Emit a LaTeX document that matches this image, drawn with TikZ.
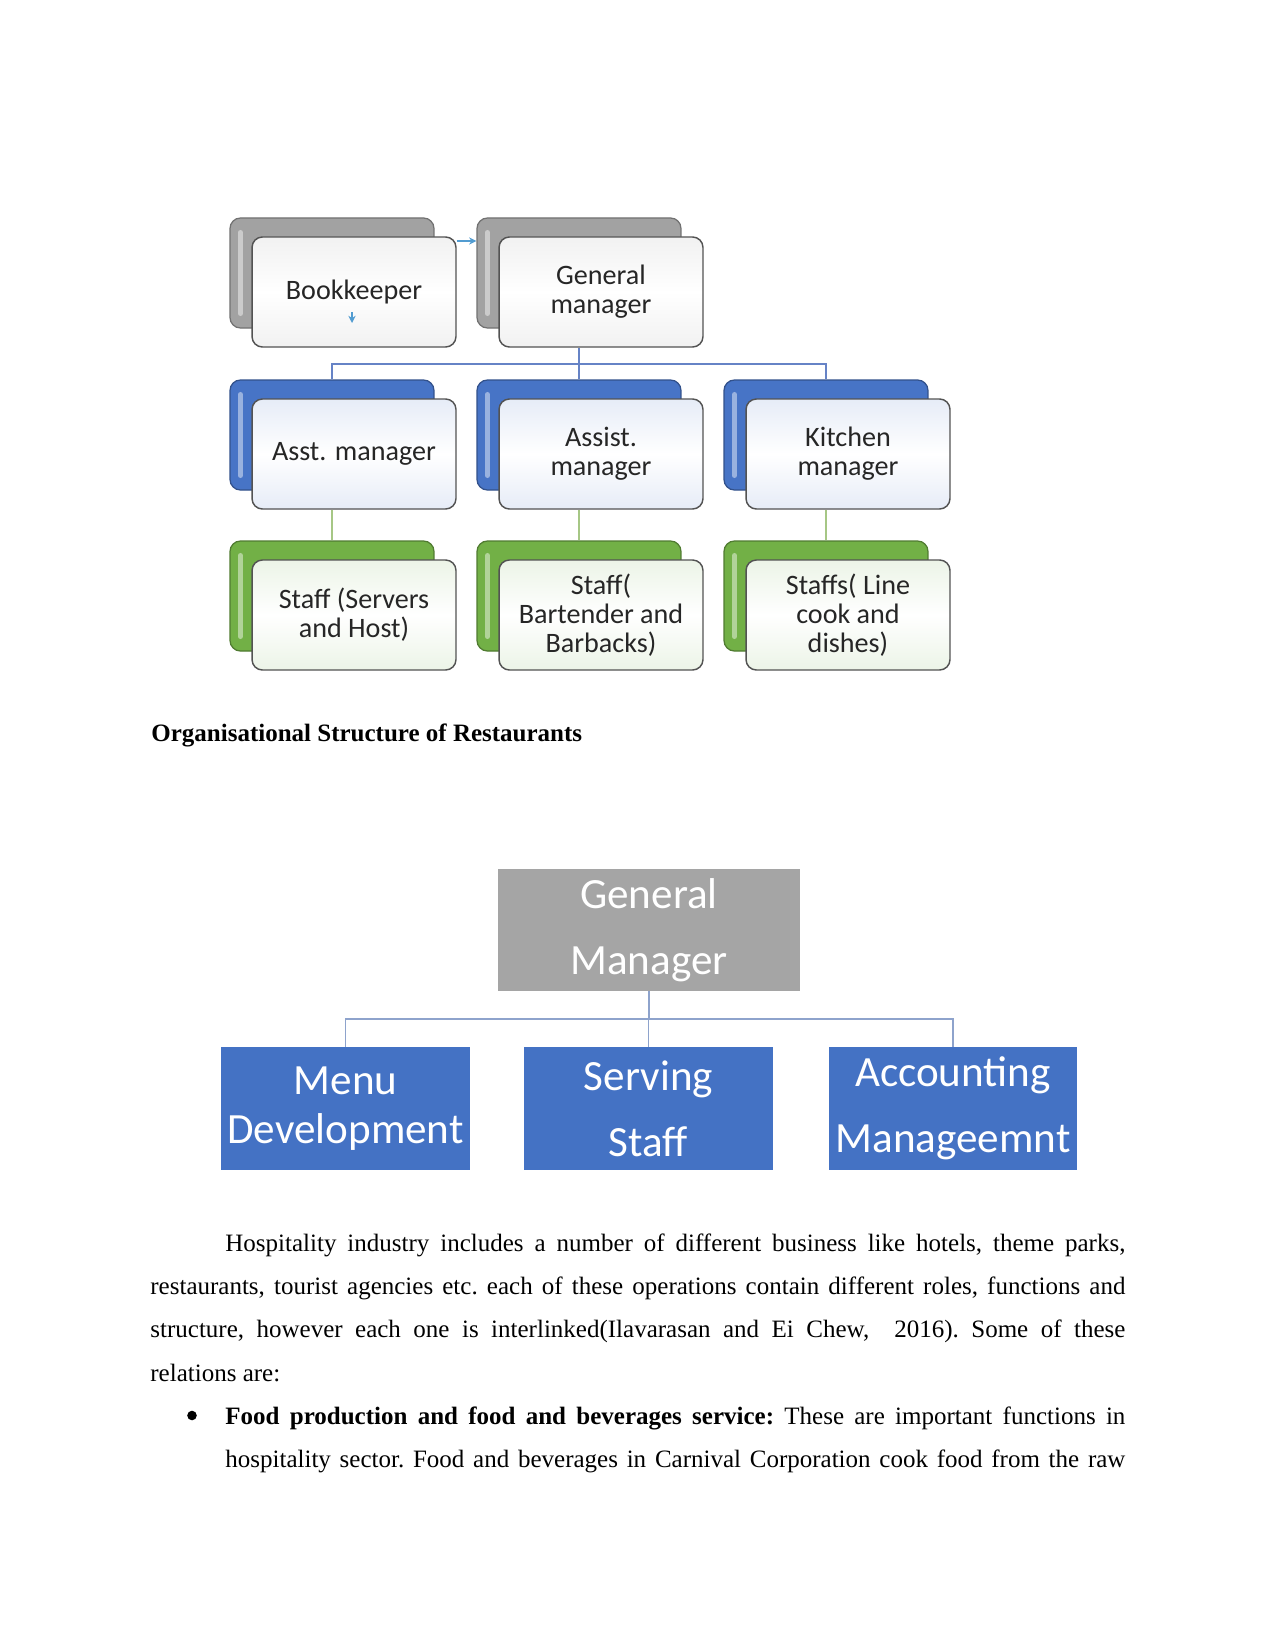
\documentclass[tikz,border=0pt]{standalone}
\usepackage{fontspec}
\setmainfont{Liberation Serif}
\newfontfamily\calibri{Carlito}
\usetikzlibrary{arrows.meta}
\definecolor{backgray}{HTML}{A2A2A2}
\definecolor{backblue}{HTML}{4774C6}
\definecolor{backgreen}{HTML}{72B046}
\definecolor{tintgray}{HTML}{F1F1F1}
\definecolor{tintblue}{HTML}{E6ECF7}
\definecolor{tintgreen}{HTML}{ECF4E7}
\definecolor{linkblue}{HTML}{6683C6}
\definecolor{linkgreen}{HTML}{A6C785}
\definecolor{gmgray}{HTML}{A5A5A5}
\definecolor{deptblue}{HTML}{4472C4}
\definecolor{busgray}{HTML}{8EA3CC}
\tikzset{
  backbox/.style={draw=#1!70!black,line width=.6pt,rounded corners=5pt,minimum width=97.9pt,minimum height=52.8pt,inner sep=0pt,fill=#1,
    path picture={\draw[white,opacity=.45,line width=2.5pt,line cap=round] ([xshift=5pt,yshift=-7pt]path picture bounding box.north west) -- ([xshift=5pt,yshift=7pt]path picture bounding box.south west);}},
  frontbox/.style={draw=gray!65!black,line width=.7pt,rounded corners=5pt,minimum width=97.9pt,minimum height=52.8pt,inner sep=0pt,align=center,text=black!85,font=\calibri\fontsize{13.5pt}{13.8pt}\selectfont,top color=#1,bottom color=#1,middle color=white},
  link/.style={line width=.9pt,#1},
  tinytip/.style={-{Stealth[length=3.5pt,width=3.5pt]},line width=.7pt,color=linkblue!80!cyan},
  deptbox/.style={fill=#1,minimum width=119.5pt,minimum height=59pt,inner sep=0pt,align=center,text=white,font=\calibri\fontsize{20.7pt}{31.5pt}\selectfont},
  bodyline/.style={anchor=base west,inner sep=0pt}
}
\begin{document}
\begin{tikzpicture}[x=.48pt,y=-.48pt,font=\fontsize{12pt}{14pt}\selectfont\frenchspacing]
\useasboundingbox (0,0) rectangle (1275,1651);
\fill[white] (0,0) rectangle (1275,1651);
\newcommand{\tierbox}[6]{\node[backbox=#4] (#1-b) at (#2+102,#3+55) {};\node[frontbox=#5] (#1) at (#2+124,#3+74) {#6};}
% restaurant chart
\foreach \n/\x/\t in {bk/230/Bookkeeper,gm/477/{General\\manager}}{\tierbox{\n}{\x}{218}{backgray}{tintgray}{\t}}
\foreach \n/\x/\t in {am/230/{Asst. manager},as/477/{Assist.\\manager},km/724/{Kitchen\\manager}}{\tierbox{\n}{\x}{380}{backblue}{tintblue}{\t}}
\foreach \n/\x/\t in {ss/230/{Staff (Servers\\and Host)},bs/477/{Staff(\\Bartender and\\Barbacks)},ks/724/{Staffs( Line\\cook and\\dishes)}}{\tierbox{\n}{\x}{541}{backgreen}{tintgreen}{\t}}
\coordinate (busT) at (0,364);
\draw[link=linkblue] (gm.south -| gm-b.south) -- (gm-b.south |- busT);
\draw[link=linkblue] (am-b.north) |- (busT -| km-b.north) -- (km-b.north);
\draw[link=linkblue] (as-b.north) -- (as-b.north |- busT);
\foreach \a/\b in {am/ss,as/bs,km/ks}{\draw[link=linkgreen] (\a.south -| \a-b.south) -- (\b-b.north);}
\draw[tinytip] (bk.east |- 0,241) -- (gm-b.west |- 0,241);
\coordinate (bkmark) at (352,312);
\draw[tinytip] (bkmark) -- ++(0,11);
\node[bodyline,font=\fontsize{12pt}{14pt}\selectfont\bfseries] (caption) at (151,741.5) {Organisational Structure of Restaurants};
% functional chart
\node[deptbox=gmgray,minimum width=145pt,minimum height=58.6pt] (gm2) at (649,930) {General\\Manager};
\node[deptbox=deptblue,font=\calibri\fontsize{20.7pt}{23.8pt}\selectfont] (menu) at (345.5,1108.5) {Menu\\Development};
\node[deptbox=deptblue] (serv) at (648.5,1108.5) {Serving\\Staff};
\node[deptbox=deptblue] (acct) at (953,1108.5) {Accounting\\Manageemnt};
\coordinate (busB) at (0,1019);
\draw[link=busgray] (gm2.south) -- (gm2.south |- busB);
\draw[link=busgray] (menu.north) |- (busB -| acct.north) -- (acct.north);
\draw[link=busgray] (serv.north) -- (serv.north |- busB);
% text
\node[bodyline] (l1) at (225,1251.7) {\makebox[432pt][s]{Hospitality industry includes a number of different business like hotels, theme parks,}};
\node[bodyline] (l2) at (150,1294.8) {\makebox[468pt][s]{restaurants, tourist agencies etc. each of these operations contain different roles, functions and}};
\node[bodyline] (l3) at (150,1337.9) {\makebox[468pt][s]{structure, however each one is interlinked(Ilavarasan and Ei Chew,\ \ 2016). Some of these}};
\node[bodyline] (l4) at (150,1381) {relations are:};
\node[circle,fill=black,inner sep=0pt,minimum size=4.6pt] (dot) at (192,1415.5) {};
\node[bodyline] (l5) at (225,1424.1) {\makebox[432pt][s]{\textbf{Food production and food and beverages service:} These are important functions in}};
\node[bodyline] (l6) at (225,1467.2) {\makebox[432pt][s]{hospitality sector. Food and beverages in Carnival Corporation cook food from the raw}};
\end{tikzpicture}
\end{document}
